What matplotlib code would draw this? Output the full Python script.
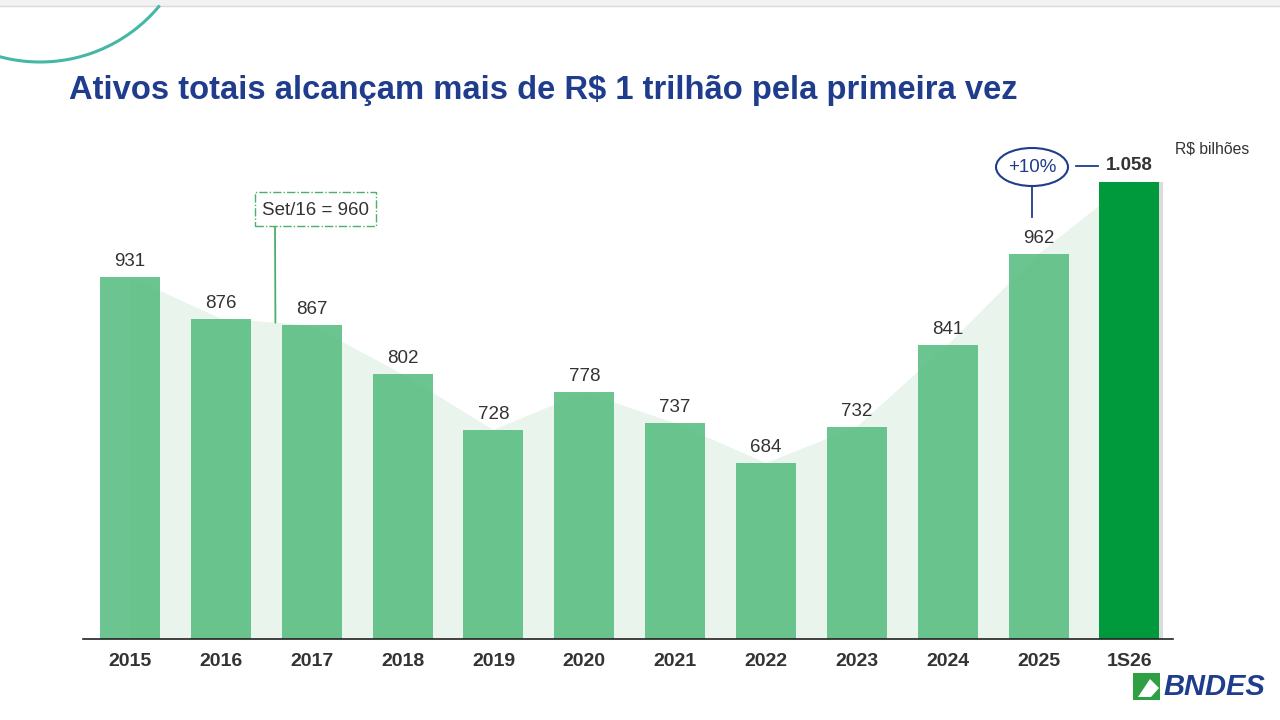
import matplotlib
matplotlib.use("Agg")
import matplotlib.pyplot as plt
from matplotlib.patches import Ellipse, Rectangle, Polygon
import numpy as np

plt.rcParams['font.family'] = ['Liberation Sans', 'DejaVu Sans']

categories = ["2015", "2016", "2017", "2018", "2019", "2020", "2021", "2022", "2023", "2024", "2025", "1S26"]
values = [931, 876, 867, 802, 728, 778, 737, 684, 732, 841, 962, 1058]
value_labels = ["931", "876", "867", "802", "728", "778", "737", "684", "732", "841", "962", "1.058"]
title = "Ativos totais alcançam mais de R$ 1 trilhão pela primeira vez"
unit_label = "R$ bilhões"
note_label = "Set/16 = 960"
growth_label = "+10%"

W, H = 1280, 720
fig = plt.figure(figsize=(12.8, 7.2), dpi=100)
fig.patch.set_facecolor("white")


def fx(px):
    return np.asarray(px) / W


def fy(py):
    return 1 - np.asarray(py) / H


# decorative top band and arc
fig.add_artist(Rectangle((0, fy(6)), 1, 6 / H, transform=fig.transFigure,
                         facecolor="#f2f2f2", edgecolor="none"))
fig.add_artist(matplotlib.lines.Line2D([0, 1], [fy(6), fy(6)], transform=fig.transFigure,
                                       color="#d9d9d9", lw=1))
theta = np.linspace(np.deg2rad(-105), np.deg2rad(-40), 100)
r, cx, cy = 155, 40, -93
arc_x = cx + r * np.cos(theta)
arc_y = cy - r * np.sin(theta)
fig.add_artist(matplotlib.lines.Line2D(fx(arc_x), fy(arc_y), transform=fig.transFigure,
                                       color="#45b8a5", lw=2.2))

fig.text(fx(69), fy(90), title, fontsize=23.6, fontweight="bold", color="#1f3d8c",
         ha="left", va="center")

# axes geometry
ax_left, ax_right, ax_bottom, ax_top = 83, 1173, 639, 130
ax = fig.add_axes([fx(ax_left), fy(ax_bottom), (ax_right - ax_left) / W, (ax_bottom - ax_top) / H])
ymin = 450
px_per_unit = 0.752
ymax = ymin + (ax_bottom - ax_top) / px_per_unit
ax.set_ylim(ymin, ymax)
ax.set_xlim(-0.518, 11.48)

x = np.arange(len(categories))
# pale background area
poly_x = list(x) + [x[-1], x[0]]
poly_y = list(values) + [ymin, ymin]
ax.add_patch(Polygon(np.column_stack([poly_x, poly_y]), closed=True,
                     facecolor="#e9f5ec", edgecolor="none", zorder=1))

n = len(values)
for xi, v in zip(x, values):
    if xi == n - 1:
        ax.bar(xi + 0.035, v - ymin, bottom=ymin, width=0.66, color="#b0b0b0", alpha=0.45, zorder=1.5,
               linewidth=0)
        ax.bar(xi, v - ymin, bottom=ymin, width=0.66, color="#009a3d", zorder=2, linewidth=0)
    else:
        ax.bar(xi, v - ymin, bottom=ymin, width=0.66, color="#4cb978", alpha=0.82, zorder=2, linewidth=0)

for xi, v, lab in zip(x[:-1], values[:-1], value_labels[:-1]):
    ax.annotate(lab, (xi, v), xytext=(0, 5), textcoords="offset points",
                ha="center", va="bottom", fontsize=13.5, color="#333333")

ax.annotate(value_labels[-1], (x[-1], values[-1]), xytext=(0, 12), textcoords="offset points",
            ha="center", va="center", fontsize=13.5, fontweight="bold", color="#333333")

for s in ["top", "right", "left"]:
    ax.spines[s].set_visible(False)
ax.spines["bottom"].set_color("#222222")
ax.spines["bottom"].set_linewidth(1.2)
ax.set_yticks([])
ax.set_xticks(x)
ax.set_xticklabels(categories, fontsize=14, fontweight="bold", color="#333333")
ax.tick_params(axis="x", length=0, pad=10)
ax.set_facecolor("none")

# Set/16 annotation
box_l, box_t, box_r, box_b = 255, 192, 376, 226
fig.add_artist(Rectangle((fx(box_l), fy(box_b)), (box_r - box_l) / W, (box_b - box_t) / H,
                         transform=fig.transFigure, facecolor="white", edgecolor="#4caf6a",
                         lw=1, linestyle=(0, (6, 1.5, 1, 1.5))))
fig.text(fx((box_l + box_r) / 2), fy((box_t + box_b) / 2 + 1), note_label, fontsize=13.5,
         color="#333333", ha="center", va="center")
line_x = 1.6
line_v = values[1] + (values[2] - values[1]) * 0.6
ax.annotate("", xy=(line_x, line_v), xycoords="data",
            xytext=(fx(275), fy(box_b)), textcoords="figure fraction",
            arrowprops=dict(arrowstyle="-", color="#4caf6a", lw=1.3, shrinkA=0, shrinkB=0))

# +10% ellipse
ecx, ecy = 1032, 167
fig.add_artist(Ellipse((fx(ecx), fy(ecy)), 72 / W, 38 / H, transform=fig.transFigure,
                       facecolor="white", edgecolor="#1f3d8c", lw=1.5))
fig.text(fx(ecx), fy(ecy), growth_label, fontsize=13.5, color="#1f3d8c", ha="center", va="center")
fig.add_artist(matplotlib.lines.Line2D([fx(ecx), fx(ecx)], [fy(186), fy(217)],
                                       transform=fig.transFigure, color="#1f3d8c", lw=1.3))
fig.add_artist(matplotlib.lines.Line2D([fx(1076), fx(1098)], [fy(166), fy(166)],
                                       transform=fig.transFigure, color="#1f3d8c", lw=1.3))

fig.text(fx(1175), fy(149), unit_label, fontsize=11.3, color="#333333", ha="left", va="center")

# BNDES logo
lx, ly, ls = 1133, 673, 27
fig.add_artist(Rectangle((fx(lx), fy(ly + ls)), ls / W, ls / H, transform=fig.transFigure,
                         facecolor="#2ea043", edgecolor="none"))
tri = np.array([[lx + 5, ly + ls - 3], [lx + 17, ly + 6], [lx + 26, ly + 15], [lx + 18, ly + ls - 3]])
fig.add_artist(Polygon(np.column_stack([fx(tri[:, 0]), fy(tri[:, 1])]), closed=True,
                       transform=fig.transFigure, facecolor="white", edgecolor="none"))
fig.text(fx(1163), fy(687), "BNDES", fontsize=21, fontweight="bold", style="italic",
         color="#1f3d8c", ha="left", va="center")

fig.savefig("out.png", dpi=100, facecolor="white")
